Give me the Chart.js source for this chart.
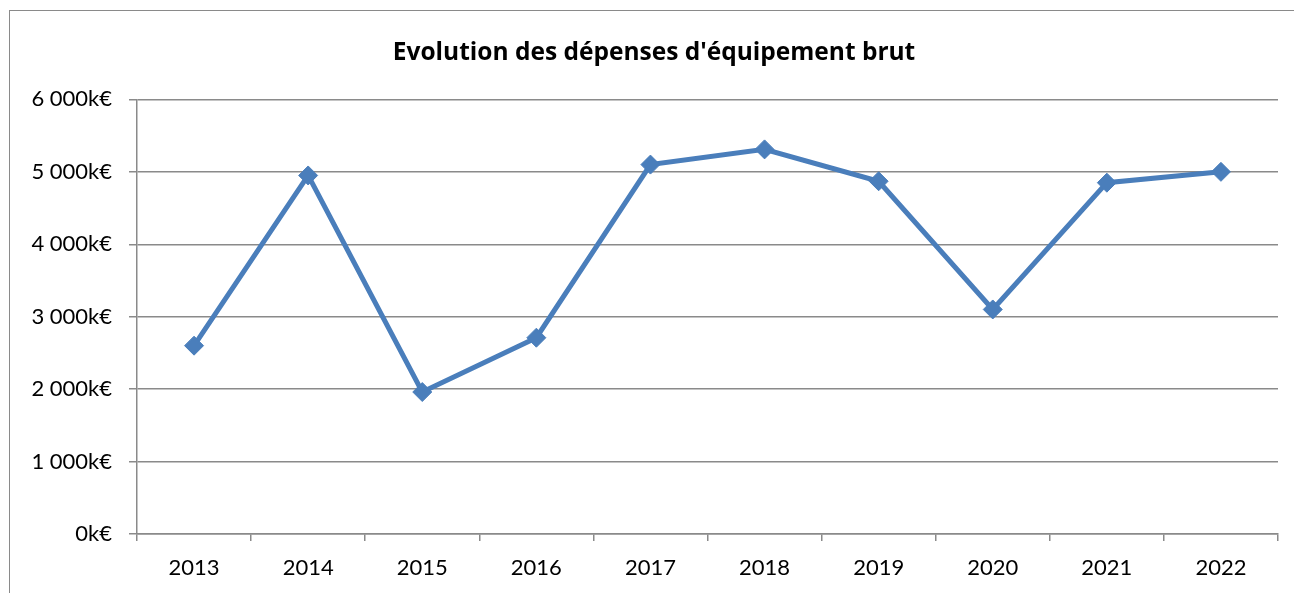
<!DOCTYPE html>
<html>
<head>
<meta charset="utf-8">
<script src="https://cdn.jsdelivr.net/npm/chart.js@4/dist/chart.umd.min.js"></script>
<style>
    html, body { margin: 0; padding: 0; overflow: hidden; background: #fff; }
    #frame {
        position: absolute; left: 9px; top: 10px;
        width: 1310px; height: 600px;
        border: 1px solid #8a8a8a;
    }
</style>
</head>
<body>
<div id="frame"><canvas id="chart" width="1310" height="600"></canvas></div>
<script>
const years = ["2013", "2014", "2015", "2016", "2017", "2018", "2019", "2020", "2021", "2022"];
const depenses = [2600, 4950, 1960, 2710, 5100, 5310, 4870, 3100, 4850, 5000]; // k€
const yTicks = [0, 1000, 2000, 3000, 4000, 5000, 6000];

const gris = "#8a8a8a";
const bleu = "#4a7ebb";

// "6 000k€"
function formatKEuro(v) {
    return String(v).replace(/\B(?=(\d{3})+(?!\d))/g, " ") + "k€";
}

const ctx = document.getElementById("chart").getContext("2d");
new Chart(ctx, {
    type: "line",
    data: {
        labels: years,
        datasets: [{
            label: "Dépenses d'équipement brut",
            data: depenses,
            borderColor: bleu,
            backgroundColor: bleu,
            borderWidth: 5,
            pointStyle: "rectRot",
            pointRadius: 9.5,
            pointBorderWidth: 1,
            pointHoverRadius: 9.5,
            tension: 0,
        }],
    },
    options: {
        responsive: false,
        animation: false,
        // un peu de marge à gauche pour recentrer le titre sur le cadre
        layout: { padding: { left: 20, right: 42, top: 0, bottom: 0 } },
        plugins: {
            legend: { display: false },
            tooltip: { enabled: false },
            title: {
                display: true,
                text: "Evolution des dépenses d'équipement brut",
                color: "#000",
                font: { family: "Open Sans", size: 24.5, weight: "bold" },
                padding: { top: 27, bottom: 32 },
            },
        },
        scales: {
            x: {
                offset: true,
                grid: {
                    offset: true,
                    drawOnChartArea: false,
                    drawTicks: true,
                    tickLength: 7,
                    color: gris,
                    lineWidth: 1.5,
                },
                border: { display: true, color: gris, width: 1.5 },
                ticks: {
                    color: "#000",
                    padding: 14,
                    maxRotation: 0,
                    font: { family: "Lato", size: 22 },
                },
                afterFit: (scale) => { scale.height = 77; },
            },
            y: {
                min: 0,
                max: 6000,
                afterBuildTicks: (scale) => {
                    scale.ticks = yTicks.map((v) => ({ value: v }));
                },
                grid: {
                    color: gris,
                    lineWidth: 1.5,
                    drawTicks: true,
                    tickLength: 8,
                },
                border: { display: true, color: gris, width: 1.5 },
                ticks: {
                    color: "#000",
                    padding: 17,
                    font: { family: "Lato", size: 22 },
                    callback: (v) => formatKEuro(v),
                },
                afterFit: (scale) => { scale.width = 107; },
            },
        },
    },
});
</script>
</body>
</html>
